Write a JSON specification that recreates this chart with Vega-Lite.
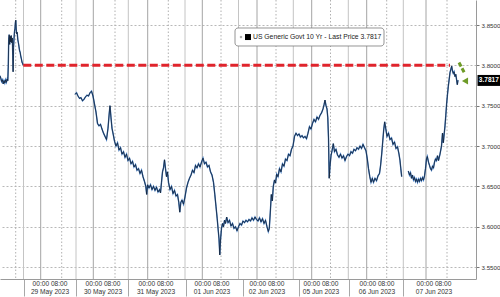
{
  "$schema": "https://vega.github.io/schema/vega-lite/v6.json",
  "width": 476,
  "height": 279,
  "autosize": {"type": "none"},
  "padding": {"left": 0, "top": 0, "right": 24, "bottom": 18},
  "background": "white",
  "config": {"view": {"stroke": null}, "font": "Liberation Sans"},
  "datasets": {
    "grid": [
      {"t": 15.7, "kind": "eight"},
      {"t": 23.5, "kind": "sep"}, {"t": 40.7, "kind": "midnight"}, {"t": 61.7, "kind": "eight"},
      {"t": 76, "kind": "sep"}, {"t": 93.3, "kind": "midnight"}, {"t": 115, "kind": "eight"},
      {"t": 128.3, "kind": "sep"}, {"t": 147.7, "kind": "midnight"}, {"t": 168.3, "kind": "eight"},
      {"t": 185, "kind": "sep"}, {"t": 202.3, "kind": "midnight"}, {"t": 221, "kind": "eight"},
      {"t": 238.5, "kind": "sep"}, {"t": 257, "kind": "midnight"}, {"t": 276, "kind": "eight"},
      {"t": 293.3, "kind": "sep"}, {"t": 311.7, "kind": "midnight"}, {"t": 330.5, "kind": "eight"},
      {"t": 348.3, "kind": "sep"}, {"t": 366.7, "kind": "midnight"}, {"t": 386.7, "kind": "eight"},
      {"t": 403.3, "kind": "sep"}, {"t": 426, "kind": "midnight"}, {"t": 447, "kind": "eight"}
    ],
    "days": [
      {"t": 50, "hours": "00:00  08:00", "day": "29 May 2023"},
      {"t": 103, "hours": "00:00  08:00", "day": "30 May 2023"},
      {"t": 156, "hours": "00:00  08:00", "day": "31 May 2023"},
      {"t": 212, "hours": "00:00  08:00", "day": "01 Jun 2023"},
      {"t": 267, "hours": "00:00  08:00", "day": "02 Jun 2023"},
      {"t": 321, "hours": "00:00  08:00", "day": "05 Jun 2023"},
      {"t": 377, "hours": "00:00  08:00", "day": "06 Jun 2023"},
      {"t": 434, "hours": "00:00  08:00", "day": "07 Jun 2023"}
    ],
    "price": [
      {"t": 0, "v": 3.787, "s": 1}, {"t": 0.8, "v": 3.784, "s": 1}, {"t": 1.6, "v": 3.78, "s": 1}, {"t": 2.4, "v": 3.782, "s": 1},
      {"t": 3.2, "v": 3.777, "s": 1}, {"t": 4, "v": 3.781, "s": 1}, {"t": 4.8, "v": 3.778, "s": 1}, {"t": 5.6, "v": 3.782, "s": 1},
      {"t": 6.4, "v": 3.779, "s": 1}, {"t": 7.2, "v": 3.783, "s": 1}, {"t": 7.8, "v": 3.781, "s": 1}, {"t": 8.3, "v": 3.8, "s": 1},
      {"t": 8.7, "v": 3.832, "s": 1}, {"t": 9.2, "v": 3.838, "s": 1}, {"t": 9.7, "v": 3.826, "s": 1}, {"t": 10.2, "v": 3.836, "s": 1},
      {"t": 10.7, "v": 3.829, "s": 1}, {"t": 11.2, "v": 3.837, "s": 1}, {"t": 11.7, "v": 3.828, "s": 1}, {"t": 12.3, "v": 3.834, "s": 1},
      {"t": 12.8, "v": 3.812, "s": 1}, {"t": 13.1, "v": 3.792, "s": 1}, {"t": 13.5, "v": 3.822, "s": 1}, {"t": 14, "v": 3.833, "s": 1},
      {"t": 14.5, "v": 3.842, "s": 1}, {"t": 15, "v": 3.846, "s": 1}, {"t": 15.4, "v": 3.853, "s": 1}, {"t": 15.8, "v": 3.856, "s": 1},
      {"t": 16.2, "v": 3.845, "s": 1}, {"t": 16.7, "v": 3.839, "s": 1}, {"t": 17.2, "v": 3.841, "s": 1}, {"t": 17.8, "v": 3.832, "s": 1},
      {"t": 18.4, "v": 3.828, "s": 1}, {"t": 19, "v": 3.823, "s": 1}, {"t": 19.6, "v": 3.818, "s": 1}, {"t": 20.2, "v": 3.816, "s": 1},
      {"t": 20.8, "v": 3.811, "s": 1}, {"t": 21.4, "v": 3.808, "s": 1}, {"t": 22, "v": 3.804, "s": 1}, {"t": 22.7, "v": 3.802, "s": 1},
      {"t": 23.3, "v": 3.8, "s": 1},

      {"t": 75, "v": 3.764, "s": 2}, {"t": 76.5, "v": 3.766, "s": 2}, {"t": 78, "v": 3.762, "s": 2}, {"t": 79.5, "v": 3.759, "s": 2},
      {"t": 81, "v": 3.76, "s": 2}, {"t": 82.5, "v": 3.756, "s": 2}, {"t": 84, "v": 3.758, "s": 2}, {"t": 85.5, "v": 3.761, "s": 2},
      {"t": 87, "v": 3.763, "s": 2}, {"t": 88.5, "v": 3.762, "s": 2}, {"t": 90, "v": 3.766, "s": 2}, {"t": 91.5, "v": 3.768, "s": 2},
      {"t": 93, "v": 3.762, "s": 2}, {"t": 94.5, "v": 3.752, "s": 2}, {"t": 96, "v": 3.742, "s": 2}, {"t": 97.5, "v": 3.728, "s": 2},
      {"t": 99, "v": 3.725, "s": 2}, {"t": 100.5, "v": 3.727, "s": 2}, {"t": 102, "v": 3.721, "s": 2}, {"t": 103.5, "v": 3.716, "s": 2},
      {"t": 105, "v": 3.712, "s": 2}, {"t": 106.5, "v": 3.708, "s": 2}, {"t": 108, "v": 3.722, "s": 2}, {"t": 109.2, "v": 3.74, "s": 2},
      {"t": 110, "v": 3.75, "s": 2}, {"t": 111, "v": 3.735, "s": 2}, {"t": 112, "v": 3.722, "s": 2}, {"t": 113.3, "v": 3.714, "s": 2},
      {"t": 114.5, "v": 3.706, "s": 2}, {"t": 116, "v": 3.7, "s": 2}, {"t": 117.5, "v": 3.704, "s": 2}, {"t": 119, "v": 3.695, "s": 2},
      {"t": 120.5, "v": 3.698, "s": 2}, {"t": 122, "v": 3.69, "s": 2}, {"t": 123.5, "v": 3.693, "s": 2}, {"t": 125, "v": 3.686, "s": 2},
      {"t": 126.5, "v": 3.69, "s": 2}, {"t": 128, "v": 3.682, "s": 2}, {"t": 129.5, "v": 3.685, "s": 2}, {"t": 131, "v": 3.678, "s": 2},
      {"t": 132.5, "v": 3.681, "s": 2}, {"t": 134, "v": 3.674, "s": 2}, {"t": 135.5, "v": 3.677, "s": 2}, {"t": 137, "v": 3.67, "s": 2},
      {"t": 138.5, "v": 3.672, "s": 2}, {"t": 140, "v": 3.666, "s": 2}, {"t": 141.5, "v": 3.67, "s": 2}, {"t": 143, "v": 3.662, "s": 2},
      {"t": 144.5, "v": 3.656, "s": 2}, {"t": 145.8, "v": 3.65, "s": 2}, {"t": 146.7, "v": 3.64, "s": 2}, {"t": 147.6, "v": 3.652, "s": 2},
      {"t": 149, "v": 3.648, "s": 2}, {"t": 150.5, "v": 3.652, "s": 2}, {"t": 152, "v": 3.646, "s": 2}, {"t": 153.5, "v": 3.65, "s": 2},
      {"t": 155, "v": 3.645, "s": 2}, {"t": 156.5, "v": 3.649, "s": 2}, {"t": 158, "v": 3.643, "s": 2}, {"t": 159.5, "v": 3.646, "s": 2},
      {"t": 160.5, "v": 3.642, "s": 2}, {"t": 161.5, "v": 3.655, "s": 2}, {"t": 162.5, "v": 3.668, "s": 2}, {"t": 163.5, "v": 3.673, "s": 2},
      {"t": 164.5, "v": 3.683, "s": 2}, {"t": 165.5, "v": 3.672, "s": 2}, {"t": 166.5, "v": 3.662, "s": 2}, {"t": 167.5, "v": 3.668, "s": 2},
      {"t": 168.5, "v": 3.655, "s": 2}, {"t": 170, "v": 3.646, "s": 2}, {"t": 171.5, "v": 3.65, "s": 2}, {"t": 173, "v": 3.641, "s": 2},
      {"t": 174.5, "v": 3.645, "s": 2}, {"t": 176, "v": 3.638, "s": 2}, {"t": 177.5, "v": 3.64, "s": 2}, {"t": 178.8, "v": 3.63, "s": 2},
      {"t": 179.8, "v": 3.618, "s": 2}, {"t": 180.8, "v": 3.63, "s": 2}, {"t": 182, "v": 3.633, "s": 2}, {"t": 183.5, "v": 3.628, "s": 2},
      {"t": 185, "v": 3.637, "s": 2}, {"t": 186.5, "v": 3.648, "s": 2}, {"t": 188, "v": 3.655, "s": 2}, {"t": 189.5, "v": 3.66, "s": 2},
      {"t": 191, "v": 3.664, "s": 2}, {"t": 192.5, "v": 3.67, "s": 2}, {"t": 194, "v": 3.667, "s": 2}, {"t": 195.5, "v": 3.676, "s": 2},
      {"t": 197, "v": 3.673, "s": 2}, {"t": 198.5, "v": 3.678, "s": 2}, {"t": 200, "v": 3.674, "s": 2}, {"t": 201.5, "v": 3.68, "s": 2},
      {"t": 203, "v": 3.685, "s": 2}, {"t": 204.5, "v": 3.678, "s": 2}, {"t": 206, "v": 3.68, "s": 2}, {"t": 207.5, "v": 3.674, "s": 2},
      {"t": 209, "v": 3.676, "s": 2}, {"t": 210.5, "v": 3.668, "s": 2}, {"t": 212, "v": 3.664, "s": 2}, {"t": 213.5, "v": 3.655, "s": 2},
      {"t": 214.8, "v": 3.64, "s": 2}, {"t": 216, "v": 3.625, "s": 2}, {"t": 217.2, "v": 3.61, "s": 2}, {"t": 218.2, "v": 3.596, "s": 2},
      {"t": 219, "v": 3.585, "s": 2}, {"t": 219.8, "v": 3.565, "s": 2}, {"t": 220.6, "v": 3.585, "s": 2}, {"t": 221.5, "v": 3.598, "s": 2},
      {"t": 222.5, "v": 3.604, "s": 2}, {"t": 223.5, "v": 3.6, "s": 2}, {"t": 224.5, "v": 3.608, "s": 2}, {"t": 225.5, "v": 3.604, "s": 2},
      {"t": 226.7, "v": 3.612, "s": 2}, {"t": 228, "v": 3.605, "s": 2}, {"t": 229.5, "v": 3.608, "s": 2}, {"t": 231, "v": 3.601, "s": 2},
      {"t": 232.5, "v": 3.604, "s": 2}, {"t": 234, "v": 3.598, "s": 2}, {"t": 235.5, "v": 3.6, "s": 2}, {"t": 237, "v": 3.595, "s": 2},
      {"t": 238.5, "v": 3.6, "s": 2}, {"t": 240, "v": 3.604, "s": 2}, {"t": 241.5, "v": 3.602, "s": 2}, {"t": 243, "v": 3.607, "s": 2},
      {"t": 244.5, "v": 3.605, "s": 2}, {"t": 246, "v": 3.608, "s": 2}, {"t": 247.5, "v": 3.606, "s": 2}, {"t": 249, "v": 3.609, "s": 2},
      {"t": 250.5, "v": 3.607, "s": 2}, {"t": 252, "v": 3.611, "s": 2}, {"t": 253.5, "v": 3.608, "s": 2}, {"t": 255, "v": 3.612, "s": 2},
      {"t": 256.5, "v": 3.609, "s": 2}, {"t": 258, "v": 3.607, "s": 2}, {"t": 259.5, "v": 3.611, "s": 2}, {"t": 261, "v": 3.606, "s": 2},
      {"t": 262.5, "v": 3.61, "s": 2}, {"t": 264, "v": 3.604, "s": 2}, {"t": 265.5, "v": 3.608, "s": 2}, {"t": 267, "v": 3.6, "s": 2},
      {"t": 268.3, "v": 3.594, "s": 2}, {"t": 269.3, "v": 3.598, "s": 2}, {"t": 270.3, "v": 3.618, "s": 2}, {"t": 271.3, "v": 3.64, "s": 2},
      {"t": 272.3, "v": 3.632, "s": 2}, {"t": 273.3, "v": 3.65, "s": 2}, {"t": 274.5, "v": 3.658, "s": 2}, {"t": 275.5, "v": 3.654, "s": 2},
      {"t": 276.7, "v": 3.665, "s": 2}, {"t": 278, "v": 3.662, "s": 2}, {"t": 279.5, "v": 3.672, "s": 2}, {"t": 281, "v": 3.668, "s": 2},
      {"t": 282.5, "v": 3.678, "s": 2}, {"t": 284, "v": 3.675, "s": 2}, {"t": 285.5, "v": 3.684, "s": 2}, {"t": 287, "v": 3.682, "s": 2},
      {"t": 288.5, "v": 3.69, "s": 2}, {"t": 290, "v": 3.688, "s": 2}, {"t": 291.5, "v": 3.696, "s": 2}, {"t": 293, "v": 3.7, "s": 2},
      {"t": 294.5, "v": 3.712, "s": 2}, {"t": 296, "v": 3.716, "s": 2}, {"t": 297.5, "v": 3.713, "s": 2}, {"t": 299, "v": 3.715, "s": 2},
      {"t": 300.5, "v": 3.711, "s": 2}, {"t": 302, "v": 3.713, "s": 2}, {"t": 303.5, "v": 3.71, "s": 2}, {"t": 305, "v": 3.712, "s": 2},
      {"t": 306.5, "v": 3.709, "s": 2}, {"t": 308, "v": 3.716, "s": 2}, {"t": 309.5, "v": 3.724, "s": 2}, {"t": 311, "v": 3.721, "s": 2},
      {"t": 312.5, "v": 3.728, "s": 2}, {"t": 314, "v": 3.733, "s": 2}, {"t": 315.5, "v": 3.73, "s": 2}, {"t": 317, "v": 3.736, "s": 2},
      {"t": 318.5, "v": 3.733, "s": 2}, {"t": 320, "v": 3.738, "s": 2}, {"t": 321.5, "v": 3.741, "s": 2}, {"t": 323, "v": 3.746, "s": 2},
      {"t": 324, "v": 3.751, "s": 2}, {"t": 325, "v": 3.757, "s": 2}, {"t": 326, "v": 3.75, "s": 2}, {"t": 327, "v": 3.746, "s": 2},
      {"t": 327.8, "v": 3.735, "s": 2}, {"t": 328.5, "v": 3.71, "s": 2}, {"t": 329.2, "v": 3.66, "s": 2}, {"t": 330, "v": 3.675, "s": 2},
      {"t": 331, "v": 3.688, "s": 2}, {"t": 332, "v": 3.694, "s": 2}, {"t": 333.3, "v": 3.703, "s": 2}, {"t": 334.5, "v": 3.693, "s": 2},
      {"t": 336, "v": 3.696, "s": 2}, {"t": 337.5, "v": 3.689, "s": 2}, {"t": 339, "v": 3.686, "s": 2}, {"t": 340.5, "v": 3.69, "s": 2},
      {"t": 342, "v": 3.685, "s": 2}, {"t": 343.5, "v": 3.688, "s": 2}, {"t": 345, "v": 3.682, "s": 2}, {"t": 346.5, "v": 3.687, "s": 2},
      {"t": 348, "v": 3.69, "s": 2}, {"t": 349.5, "v": 3.688, "s": 2}, {"t": 351, "v": 3.693, "s": 2}, {"t": 352.5, "v": 3.691, "s": 2},
      {"t": 354, "v": 3.696, "s": 2}, {"t": 355.5, "v": 3.694, "s": 2}, {"t": 357, "v": 3.698, "s": 2}, {"t": 358.5, "v": 3.696, "s": 2},
      {"t": 360, "v": 3.7, "s": 2}, {"t": 361.5, "v": 3.697, "s": 2}, {"t": 363, "v": 3.702, "s": 2}, {"t": 364.5, "v": 3.698, "s": 2},
      {"t": 366, "v": 3.694, "s": 2}, {"t": 367.3, "v": 3.684, "s": 2}, {"t": 368.5, "v": 3.672, "s": 2}, {"t": 369.8, "v": 3.662, "s": 2},
      {"t": 371, "v": 3.655, "s": 2}, {"t": 372.3, "v": 3.66, "s": 2}, {"t": 373.5, "v": 3.655, "s": 2}, {"t": 375, "v": 3.66, "s": 2},
      {"t": 376.5, "v": 3.657, "s": 2}, {"t": 378, "v": 3.663, "s": 2}, {"t": 379.5, "v": 3.666, "s": 2}, {"t": 380.5, "v": 3.675, "s": 2},
      {"t": 381.7, "v": 3.69, "s": 2}, {"t": 382.7, "v": 3.705, "s": 2}, {"t": 383.7, "v": 3.72, "s": 2}, {"t": 384.7, "v": 3.73, "s": 2},
      {"t": 385.7, "v": 3.722, "s": 2}, {"t": 387, "v": 3.712, "s": 2}, {"t": 388.5, "v": 3.716, "s": 2}, {"t": 390, "v": 3.708, "s": 2},
      {"t": 391.5, "v": 3.71, "s": 2}, {"t": 393, "v": 3.702, "s": 2}, {"t": 394.5, "v": 3.705, "s": 2}, {"t": 396, "v": 3.697, "s": 2},
      {"t": 397.5, "v": 3.699, "s": 2}, {"t": 399, "v": 3.69, "s": 2}, {"t": 400, "v": 3.682, "s": 2}, {"t": 400.8, "v": 3.672, "s": 2},
      {"t": 401.7, "v": 3.662, "s": 2},

      {"t": 408.3, "v": 3.669, "s": 3}, {"t": 409.5, "v": 3.664, "s": 3}, {"t": 410.5, "v": 3.667, "s": 3}, {"t": 411.5, "v": 3.66, "s": 3},
      {"t": 412.5, "v": 3.664, "s": 3}, {"t": 413.5, "v": 3.658, "s": 3}, {"t": 414.5, "v": 3.661, "s": 3}, {"t": 415.5, "v": 3.656, "s": 3},
      {"t": 416.5, "v": 3.659, "s": 3}, {"t": 417.5, "v": 3.655, "s": 3}, {"t": 418.5, "v": 3.659, "s": 3}, {"t": 419.5, "v": 3.656, "s": 3},
      {"t": 420.5, "v": 3.66, "s": 3}, {"t": 421.5, "v": 3.657, "s": 3}, {"t": 422.5, "v": 3.661, "s": 3}, {"t": 423.5, "v": 3.658, "s": 3},
      {"t": 424.5, "v": 3.663, "s": 3}, {"t": 425.5, "v": 3.672, "s": 3}, {"t": 426.5, "v": 3.684, "s": 3}, {"t": 427.3, "v": 3.687, "s": 3},
      {"t": 428.5, "v": 3.68, "s": 3}, {"t": 429.5, "v": 3.676, "s": 3}, {"t": 430.5, "v": 3.672, "s": 3}, {"t": 431.5, "v": 3.67, "s": 3},
      {"t": 432.5, "v": 3.675, "s": 3}, {"t": 433.5, "v": 3.673, "s": 3}, {"t": 434.5, "v": 3.68, "s": 3}, {"t": 435.5, "v": 3.684, "s": 3},
      {"t": 436.5, "v": 3.682, "s": 3}, {"t": 437.5, "v": 3.688, "s": 3}, {"t": 438.5, "v": 3.682, "s": 3}, {"t": 440, "v": 3.69, "s": 3},
      {"t": 441.5, "v": 3.7, "s": 3}, {"t": 442.5, "v": 3.716, "s": 3}, {"t": 443.3, "v": 3.704, "s": 3}, {"t": 444.2, "v": 3.715, "s": 3},
      {"t": 445, "v": 3.725, "s": 3}, {"t": 445.8, "v": 3.738, "s": 3}, {"t": 446.6, "v": 3.752, "s": 3}, {"t": 447.5, "v": 3.764, "s": 3},
      {"t": 448.3, "v": 3.774, "s": 3}, {"t": 449.2, "v": 3.783, "s": 3}, {"t": 450, "v": 3.791, "s": 3}, {"t": 450.8, "v": 3.795, "s": 3},
      {"t": 451.7, "v": 3.799, "s": 3}, {"t": 452.5, "v": 3.793, "s": 3}, {"t": 453.3, "v": 3.79, "s": 3}, {"t": 454.1, "v": 3.792, "s": 3},
      {"t": 455, "v": 3.786, "s": 3}, {"t": 455.8, "v": 3.789, "s": 3}, {"t": 456.6, "v": 3.782, "s": 3}, {"t": 457.3, "v": 3.776, "s": 3},
      {"t": 458, "v": 3.7817, "s": 3}
    ],
    "note": [{"label": "US Generic Govt 10 Yr - Last Price 3.7817", "last": "3.7817"}]
  },
  "layer": [
    {
      "data": {"name": "grid"},
      "transform": [{"filter": "datum.kind == 'sep'"}],
      "mark": {"type": "rule", "color": "#c4c4c4", "strokeWidth": 1},
      "encoding": {
        "x": {
          "field": "t", "type": "quantitative", "title": null,
          "scale": {"domain": [0, 476], "nice": false, "zero": false},
          "axis": {
            "values": [24, 76, 128, 185.5, 243, 299, 348.5, 403],
            "labels": false,
            "grid": false,
            "tickSize": 17,
            "tickColor": "#a8a8a8",
            "tickWidth": 1,
            "domainColor": "#9a9a9a",
            "domainWidth": 1
          }
        }
      }
    },
    {
      "data": {"name": "grid"},
      "transform": [{"filter": "datum.kind == 'midnight'"}],
      "mark": {"type": "rule", "color": "#a4a4a4", "strokeWidth": 1},
      "encoding": {"x": {"field": "t", "type": "quantitative", "title": null}}
    },
    {
      "data": {"name": "grid"},
      "transform": [{"filter": "datum.kind == 'eight'"}],
      "mark": {"type": "rule", "color": "#b0b0b0", "strokeWidth": 1, "strokeDash": [1.5, 2]},
      "encoding": {"x": {"field": "t", "type": "quantitative", "title": null}}
    },
    {
      "data": {"name": "price"},
      "mark": {"type": "line", "color": "#3f78bf", "strokeWidth": 1.4, "interpolate": "linear"},
      "encoding": {
        "x": {"field": "t", "type": "quantitative", "title": null},
        "y": {
          "field": "v", "type": "quantitative", "title": null,
          "scale": {"domain": [3.5352, 3.881], "nice": false, "zero": false},
          "axis": {
            "orient": "right",
            "values": [3.55, 3.575, 3.6, 3.625, 3.65, 3.675, 3.7, 3.725, 3.75, 3.775, 3.8, 3.825, 3.85, 3.875],
            "labelExpr": "round(datum.value*1000) % 50 == 0 ? format(datum.value, '.4f') : ''",
            "grid": true,
            "gridColor": "#b8b8b8",
            "gridDash": [2, 2],
            "gridWidth": 1,
            "gridOpacity": {"condition": {"test": "round(datum.value*1000) % 50 == 0", "value": 1}, "value": 0},
            "tickSize": 3,
            "tickColor": "#777777",
            "labelPadding": 2,
            "labelFont": "Liberation Sans",
            "labelFontSize": 6.2,
            "labelColor": "#333333",
            "labelOverlap": false,
            "labelFlush": false,
            "labelBound": false,
            "domainColor": "#9a9a9a",
            "domainWidth": 1
          }
        },
        "detail": {"field": "s", "type": "nominal"}
      }
    },
    {
      "data": {"name": "price"},
      "mark": {"type": "line", "color": "#111a26", "strokeWidth": 0.7, "interpolate": "linear"},
      "encoding": {
        "x": {"field": "t", "type": "quantitative", "title": null},
        "y": {"field": "v", "type": "quantitative", "title": null},
        "detail": {"field": "s", "type": "nominal"}
      }
    },
    {
      "data": {"name": "days"},
      "mark": {"type": "text", "align": "center", "baseline": "middle", "font": "Liberation Sans", "fontSize": 6.6, "color": "#333333"},
      "encoding": {
        "x": {"field": "t", "type": "quantitative", "title": null},
        "y": {"datum": 3.5295, "type": "quantitative"},
        "text": {"field": "hours"}
      }
    },
    {
      "data": {"name": "days"},
      "mark": {"type": "text", "align": "center", "baseline": "middle", "font": "Liberation Sans", "fontSize": 6.6, "color": "#333333"},
      "encoding": {
        "x": {"field": "t", "type": "quantitative", "title": null},
        "y": {"datum": 3.5189, "type": "quantitative"},
        "text": {"field": "day"}
      }
    },
    {
      "data": {"name": "note"},
      "mark": {"type": "rule", "color": "#e0242c", "strokeWidth": 3, "strokeDash": [8, 3.5]},
      "encoding": {
        "x": {"datum": 23.3, "type": "quantitative"},
        "x2": {"datum": 450},
        "y": {"datum": 3.8, "type": "quantitative"}
      }
    },
    {
      "data": {"name": "note"},
      "mark": {"type": "rule", "color": "#6e9b27", "strokeWidth": 3, "strokeDash": [4.5, 2]},
      "encoding": {
        "x": {"datum": 459, "type": "quantitative"},
        "x2": {"datum": 464.5},
        "y": {"datum": 3.8035, "type": "quantitative"},
        "y2": {"datum": 3.7905}
      }
    },
    {
      "data": {"name": "note"},
      "mark": {"type": "point", "shape": "triangle-left", "filled": true, "color": "#6e9b27", "size": 50, "opacity": 1},
      "encoding": {
        "x": {"datum": 465, "type": "quantitative"},
        "y": {"datum": 3.7805, "type": "quantitative"}
      }
    },
    {
      "data": {"name": "note"},
      "mark": {"type": "rect", "fill": "white", "stroke": "#7a7a7a", "strokeWidth": 0.8, "cornerRadius": 3},
      "encoding": {
        "x": {"datum": 235, "type": "quantitative"},
        "x2": {"datum": 384},
        "y": {"datum": 3.8463, "type": "quantitative"},
        "y2": {"datum": 3.824}
      }
    },
    {
      "data": {"name": "note"},
      "mark": {"type": "point", "shape": "square", "filled": true, "color": "#b0b0b0", "size": 5, "opacity": 1},
      "encoding": {
        "x": {"datum": 241, "type": "quantitative"},
        "y": {"datum": 3.8351, "type": "quantitative"}
      }
    },
    {
      "data": {"name": "note"},
      "mark": {"type": "point", "shape": "square", "filled": true, "color": "#000000", "size": 36, "opacity": 1},
      "encoding": {
        "x": {"datum": 248, "type": "quantitative"},
        "y": {"datum": 3.8351, "type": "quantitative"}
      }
    },
    {
      "data": {"name": "note"},
      "mark": {"type": "text", "align": "left", "baseline": "middle", "font": "Liberation Sans", "fontSize": 6.8, "color": "#222222"},
      "encoding": {
        "x": {"datum": 253, "type": "quantitative"},
        "y": {"datum": 3.8351, "type": "quantitative"},
        "text": {"field": "label"}
      }
    },
    {
      "data": {"name": "note"},
      "mark": {"type": "rect", "fill": "#000000"},
      "encoding": {
        "x": {"datum": 477.5, "type": "quantitative"},
        "x2": {"datum": 500},
        "y": {"datum": 3.7881, "type": "quantitative"},
        "y2": {"datum": 3.7745}
      }
    },
    {
      "data": {"name": "note"},
      "mark": {"type": "text", "align": "center", "baseline": "middle", "font": "Liberation Sans", "fontSize": 6.5, "fontWeight": "bold", "color": "white"},
      "encoding": {
        "x": {"datum": 488.8, "type": "quantitative"},
        "y": {"datum": 3.7813, "type": "quantitative"},
        "text": {"field": "last"}
      }
    }
  ]
}
